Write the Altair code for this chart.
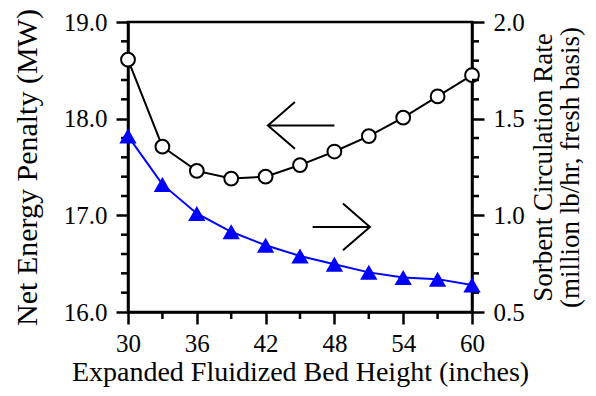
import altair as alt
import pandas as pd

# Data
height_in = [30, 33, 36, 39, 42, 45, 48, 51, 54, 57, 60]
energy_penalty = [18.61, 17.71, 17.46, 17.38, 17.40, 17.52, 17.66, 17.82, 18.01, 18.23, 18.45]
sorbent_rate = [1.41, 1.16, 1.01, 0.915, 0.845, 0.79, 0.747, 0.705, 0.678, 0.67, 0.64]

# annotation arrows (tail x, tip x, y on left axis)
arrow_tail = [48.0, 46.1]
arrow_tip = [42.2, 51.1]
arrow_y = [17.93, 16.88]
arrow_dir = ["left", "right"]

# ticks
x_major = [30, 36, 42, 48, 54, 60]
x_minor = [33, 39, 45, 51, 57]
left_major = [16.0, 17.0, 18.0, 19.0]
left_minor = [16.2, 16.4, 16.6, 16.8, 17.2, 17.4, 17.6, 17.8, 18.2, 18.4, 18.6, 18.8]
right_major = [0.5, 1.0, 1.5, 2.0]
right_minor = [0.6, 0.7, 0.8, 0.9, 1.1, 1.2, 1.3, 1.4, 1.6, 1.7, 1.8, 1.9]

df = pd.DataFrame({"h": height_in, "e": energy_penalty, "s": sorbent_rate})
adf = pd.DataFrame({"x0": arrow_tail, "x1": arrow_tip, "y": arrow_y, "dir": arrow_dir})
xmin_df = pd.DataFrame({"h": x_minor})
lmin_df = pd.DataFrame({"e": left_minor})
rmin_df = pd.DataFrame({"s": right_minor})

FONT = "Liberation Serif"
LW = 2.5
W, H = 344, 290
MINOR = 7

x_scale = alt.Scale(domain=[30, 60], nice=False, zero=False)
x_axis = alt.Axis(
    values=x_major,
    format="d",
    tickSize=12,
    title="Expanded Fluidized Bed Height (inches)",
    titleFontSize=28,
    titlePadding=2,
    labelPadding=7,
    grid=False,
)
x_enc = alt.X("h:Q", scale=x_scale, axis=x_axis)

left_scale = alt.Scale(domain=[16, 19], nice=False, zero=False)
left_axis = alt.Axis(
    values=left_major,
    format=".1f",
    tickSize=12,
    title="Net Energy Penalty (MW)",
    titleFontSize=30,
    titlePadding=21,
    labelPadding=9,
    grid=False,
    orient="left",
)

right_scale = alt.Scale(domain=[0.5, 2.0], nice=False, zero=False)
right_axis = alt.Axis(
    values=right_major,
    format=".1f",
    tickSize=12,
    title=["Sorbent Circulation Rate", "(million lb/hr, fresh basis)"],
    titleFontSize=27,
    titleLineHeight=27,
    titleAngle=270,
    titlePadding=6,
    labelPadding=9,
    grid=False,
    orient="right",
)

y_left = alt.Y("e:Q", scale=left_scale, axis=left_axis)
y_right = alt.Y("s:Q", scale=right_scale, axis=right_axis)

base = alt.Chart(df)

black_line = base.mark_line(color="black", strokeWidth=2).encode(x=x_enc, y=y_left)
black_pts = base.mark_point(
    shape="circle", size=190, filled=True, fill="white", stroke="black", strokeWidth=2, opacity=1
).encode(x=x_enc, y=y_left)

arrow_shaft = alt.Chart(adf).mark_rule(color="black", strokeWidth=2).encode(
    x=alt.X("x0:Q", scale=x_scale, axis=x_axis), x2="x1:Q",
    y=alt.Y("y:Q", scale=left_scale, axis=left_axis),
)
arrow_head = alt.Chart(adf).mark_point(
    filled=False, stroke="black", strokeWidth=2, size=729, opacity=1
).encode(
    x=alt.X("x1:Q", scale=x_scale, axis=x_axis),
    y=alt.Y("y:Q", scale=left_scale, axis=left_axis),
    shape=alt.Shape(
        "dir:N",
        scale=alt.Scale(domain=["left", "right"],
                        range=["M2,-1.73L0,0L2,1.73", "M-2,-1.73L0,0L-2,1.73"]),
        legend=None,
    ),
)

# minor ticks
x_minor_ticks = alt.Chart(xmin_df).mark_rule(color="black", strokeWidth=LW).encode(
    x=x_enc, y=alt.value(H), y2=alt.value(H + MINOR)
)
left_minor_ticks = alt.Chart(lmin_df).mark_rule(color="black", strokeWidth=LW).encode(
    y=y_left, x=alt.value(0), x2=alt.value(-MINOR)
)
right_minor_ticks = alt.Chart(rmin_df).mark_rule(color="black", strokeWidth=LW).encode(
    y=y_right, x=alt.value(W), x2=alt.value(W + MINOR)
)

blue_line = base.mark_line(color="#0000ff", strokeWidth=2).encode(x=x_enc, y=y_right)
blue_pts = base.mark_point(
    shape="triangle-up", size=300, filled=True, color="#0000ff", opacity=1
).encode(x=x_enc, y=y_right)

left_layer = alt.layer(black_line, arrow_shaft, arrow_head, left_minor_ticks, x_minor_ticks, black_pts)
right_layer = alt.layer(blue_line, right_minor_ticks, blue_pts)

chart = (
    alt.layer(left_layer, right_layer)
    .resolve_scale(y="independent")
    .properties(
        width=W,
        height=H,
        autosize=alt.AutoSizeParams(type="none"),
        padding={"left": 120, "top": 14, "right": 116, "bottom": 76},
    )
    .configure_view(stroke="black", strokeWidth=LW)
    .configure_axis(
        domainColor="black",
        domainWidth=LW,
        tickColor="black",
        tickWidth=LW,
        labelFont=FONT,
        labelFontSize=25,
        labelColor="black",
        titleFont=FONT,
        titleFontWeight="normal",
        titleColor="black",
        labelOverlap=False,
        labelFlush=False,
        labelBound=False,
    )
)

chart.save("out.html", embed_options={"renderer": "svg", "actions": False})
